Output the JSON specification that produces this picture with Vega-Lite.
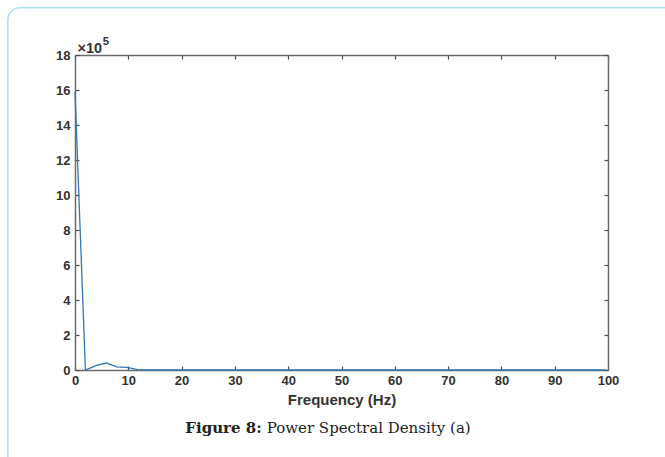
{
  "$schema": "https://vega.github.io/schema/vega-lite/v6.json",
  "autosize": {"type": "none"},
  "width": 533,
  "height": 315,
  "padding": {"left": 75, "top": 55, "right": 57, "bottom": 87},
  "background": "white",
  "config": {
    "view": {"stroke": null},
    "axis": {
      "domainColor": "#6b6b6b",
      "domainWidth": 1.5,
      "tickColor": "#4a4a4a",
      "tickWidth": 1.2,
      "tickSize": -4,
      "grid": false,
      "labelFlush": false,
      "labelFont": "Liberation Sans",
      "labelFontSize": 13,
      "labelFontWeight": "bold",
      "labelColor": "#333333",
      "titleFont": "Liberation Sans",
      "titleFontWeight": "bold",
      "titleColor": "#333333"
    }
  },
  "datasets": {
    "psd": [
      {"freq": 0.0, "power": 1590000},
      {"freq": 1.95, "power": 0},
      {"freq": 3.91, "power": 25000},
      {"freq": 5.86, "power": 40000},
      {"freq": 7.81, "power": 18000},
      {"freq": 9.77, "power": 15000},
      {"freq": 11.72, "power": 2000},
      {"freq": 13.67, "power": 0},
      {"freq": 50.0, "power": 0},
      {"freq": 99.6, "power": 0}
    ],
    "caption": [
      {"part": "Figure 8:", "weight": "bold"},
      {"part": "Power Spectral Density (a)", "weight": "normal"}
    ]
  },
  "resolve": {"axis": {"x": "independent", "y": "independent"}},
  "layer": [
    {
      "description": "Rounded panel frame around the figure",
      "data": {"values": [{}]},
      "mark": {"type": "rect", "fill": null, "stroke": "#a9e2ec", "strokeWidth": 1.6, "cornerRadius": 12, "clip": false},
      "encoding": {
        "x": {"datum": -12.6, "type": "quantitative", "scale": {"domain": [0, 100], "nice": false, "zero": false}, "axis": null},
        "x2": {"datum": 118},
        "y": {"datum": 2070000, "type": "quantitative", "scale": {"domain": [0, 1800000], "nice": false}, "axis": null},
        "y2": {"datum": -620000}
      }
    },
    {
      "data": {"name": "psd"},
      "mark": {"type": "line", "color": "#2f76b4", "strokeWidth": 1.3},
      "encoding": {
        "x": {
          "field": "freq", "type": "quantitative",
          "scale": {"domain": [0, 100], "nice": false, "zero": false},
          "axis": {
            "orient": "bottom",
            "values": [0, 10, 20, 30, 40, 50, 60, 70, 80, 90, 100],
            "labelPadding": 8,
            "title": "Frequency (Hz)",
            "titleFontSize": 15,
            "titleColor": "#333333",
            "titlePadding": 5
          }
        },
        "y": {
          "field": "power", "type": "quantitative",
          "scale": {"domain": [0, 1800000], "nice": false},
          "axis": {
            "orient": "left",
            "values": [0, 200000, 400000, 600000, 800000, 1000000, 1200000, 1400000, 1600000, 1800000],
            "labelExpr": "format(datum.value / 100000, 'd')",
            "labelPadding": 9,
            "title": "×10",
            "titleAngle": 0,
            "titleFontSize": 14.5,
            "titleAlign": "left",
            "titleBaseline": "alphabetic",
            "titleX": 2,
            "titleY": -3
          }
        }
      }
    },
    {
      "description": "Top and right box edges with inward ticks",
      "data": {"name": "psd"},
      "mark": {"type": "point", "opacity": 0},
      "encoding": {
        "x": {
          "field": "freq", "type": "quantitative",
          "scale": {"domain": [0, 100], "nice": false, "zero": false},
          "axis": {"orient": "top", "values": [0, 10, 20, 30, 40, 50, 60, 70, 80, 90, 100], "labels": false, "title": null}
        },
        "y": {
          "field": "power", "type": "quantitative",
          "scale": {"domain": [0, 1800000], "nice": false},
          "axis": {"orient": "right", "values": [0, 200000, 400000, 600000, 800000, 1000000, 1200000, 1400000, 1600000, 1800000], "labels": false, "title": null}
        }
      }
    },
    {
      "description": "Exponent of the y-axis multiplier",
      "data": {"values": [{"exponent": "5"}]},
      "mark": {"type": "text", "font": "Liberation Sans", "fontSize": 11.5, "fontWeight": "bold", "color": "#333333", "align": "left", "baseline": "alphabetic", "clip": false},
      "encoding": {
        "x": {"datum": 5.2, "type": "quantitative", "scale": {"domain": [0, 100], "nice": false, "zero": false}, "axis": null},
        "y": {"datum": 1855000, "type": "quantitative", "scale": {"domain": [0, 1800000], "nice": false}, "axis": null},
        "text": {"field": "exponent"}
      }
    },
    {
      "data": {"name": "caption"},
      "transform": [{"filter": "datum.weight === 'bold'"}],
      "mark": {"type": "text", "font": "DejaVu Serif", "fontSize": 15, "fontWeight": "bold", "color": "#222222", "align": "right", "baseline": "middle", "dx": -2, "clip": false},
      "encoding": {
        "x": {"datum": 35.4, "type": "quantitative", "scale": {"domain": [0, 100], "nice": false, "zero": false}, "axis": null},
        "y": {"datum": -331000, "type": "quantitative", "scale": {"domain": [0, 1800000], "nice": false}, "axis": null},
        "text": {"field": "part"}
      }
    },
    {
      "data": {"name": "caption"},
      "transform": [{"filter": "datum.weight === 'normal'"}],
      "mark": {"type": "text", "font": "DejaVu Serif", "fontSize": 15, "color": "#222222", "align": "left", "baseline": "middle", "dx": 3, "clip": false},
      "encoding": {
        "x": {"datum": 35.4, "type": "quantitative", "scale": {"domain": [0, 100], "nice": false, "zero": false}, "axis": null},
        "y": {"datum": -331000, "type": "quantitative", "scale": {"domain": [0, 1800000], "nice": false}, "axis": null},
        "text": {"field": "part"}
      }
    }
  ]
}
